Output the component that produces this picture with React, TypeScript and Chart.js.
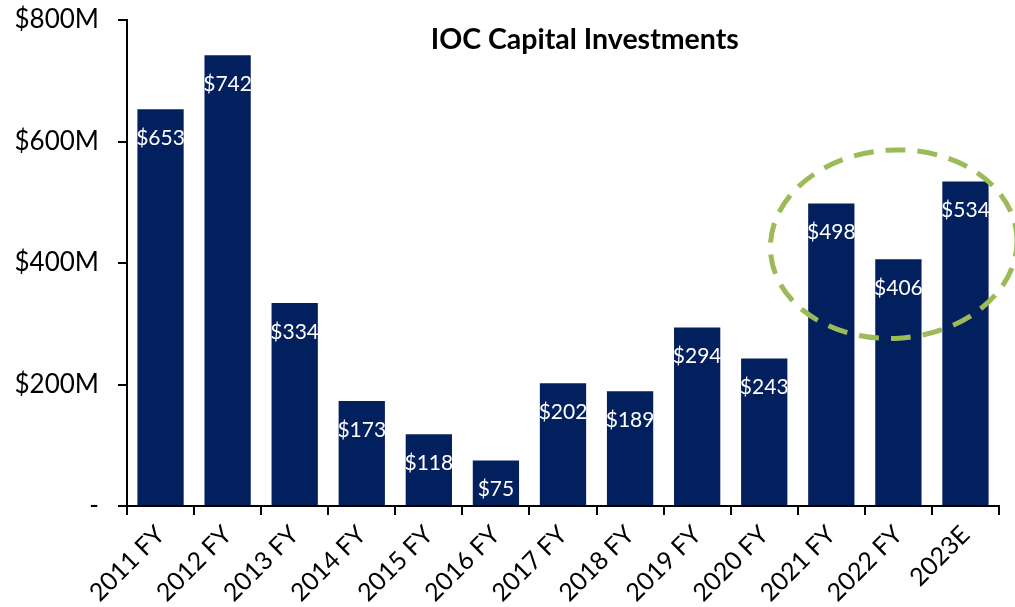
import React, { useEffect, useRef } from "react";
import { Chart, registerables } from "chart.js";

Chart.register(...registerables);

const categories = [
  "2011 FY", "2012 FY", "2013 FY", "2014 FY", "2015 FY", "2016 FY", "2017 FY",
  "2018 FY", "2019 FY", "2020 FY", "2021 FY", "2022 FY", "2023E",
];
const investments = [653, 742, 334, 173, 118, 75, 202, 189, 294, 243, 498, 406, 534];
const yTicks = [0, 200, 400, 600, 800];
const titleText = "IOC Capital Investments";
// highlight ellipse: centre (category index, value), radii (categories, value units)
const highlightCenter = [10.93, 431];
const highlightRadius = [1.84, 155];

const FONT = "Lato, 'Open Sans', sans-serif";

export default function App() {
  const ref = useRef<HTMLCanvasElement | null>(null);

  useEffect(() => {
    if (!ref.current) return;

    const labelPlugin = {
      id: "barLabels",
      afterDatasetsDraw(chart: any) {
        const ctx = chart.ctx;
        const meta = chart.getDatasetMeta(0);
        ctx.save();
        ctx.fillStyle = "#ffffff";
        ctx.font = `21px ${FONT}`;
        ctx.textAlign = "center";
        ctx.textBaseline = "middle";
        meta.data.forEach((el: any, i: number) => {
          ctx.fillText(`$${investments[i]}`, el.x, el.y + 29);
        });
        ctx.restore();
      },
    };

    const ellipsePlugin = {
      id: "highlight",
      afterDatasetsDraw(chart: any) {
        const ctx = chart.ctx;
        const xs = chart.scales.x;
        const ys = chart.scales.y;
        const cx = xs.getPixelForValue(highlightCenter[0]);
        const cy = ys.getPixelForValue(highlightCenter[1]);
        const catW = xs.getPixelForValue(1) - xs.getPixelForValue(0);
        const rx = highlightRadius[0] * catW;
        const ry = Math.abs(ys.getPixelForValue(0) - ys.getPixelForValue(highlightRadius[1]));
        ctx.save();
        ctx.strokeStyle = "#9BBB59";
        ctx.lineWidth = 5;
        ctx.setLineDash([20, 12]);
        ctx.beginPath();
        ctx.ellipse(cx, cy, rx, ry, -0.06, 0, Math.PI * 2);
        ctx.stroke();
        ctx.restore();
      },
    };

    const titlePlugin = {
      id: "customTitle",
      afterDraw(chart: any) {
        const ctx = chart.ctx;
        const a = chart.chartArea;
        ctx.save();
        ctx.fillStyle = "#000000";
        ctx.font = `bold 28.5px ${FONT}`;
        ctx.textAlign = "center";
        ctx.textBaseline = "middle";
        ctx.fillText(titleText, a.left + 0.525 * (a.right - a.left), a.top + 20);
        ctx.restore();
      },
    };

    const chart = new Chart(ref.current, {
      type: "bar",
      data: {
        labels: categories,
        datasets: [
          {
            data: investments,
            backgroundColor: "#03205E",
            barPercentage: 0.69,
            categoryPercentage: 1,
          },
        ],
      },
      options: {
        animation: false,
        responsive: true,
        maintainAspectRatio: false,
        layout: { padding: { top: 20, right: 16, left: 0, bottom: 0 } },
        plugins: {
          legend: { display: false },
          title: { display: false },
          tooltip: { enabled: false },
        },
        scales: {
          x: {
            offset: true,
            border: { color: "#000", width: 2 },
            grid: {
              offset: true,
              drawOnChartArea: false,
              drawTicks: true,
              tickLength: 9,
              color: "#000",
              lineWidth: 2,
            },
            ticks: {
              color: "#000",
              font: { family: FONT, size: 25 },
              minRotation: 45,
              maxRotation: 45,
              padding: 5,
            },
            afterFit(scale: any) {
              scale.height = 101;
              scale.paddingLeft = 0;
              scale.paddingRight = 0;
            },
          },
          y: {
            min: 0,
            max: 800,
            border: { color: "#000", width: 2 },
            grid: {
              drawOnChartArea: false,
              drawTicks: true,
              tickLength: 9,
              color: "#000",
              lineWidth: 2,
            },
            afterBuildTicks(scale: any) {
              scale.ticks = yTicks.map((v) => ({ value: v }));
            },
            ticks: {
              color: "#000",
              font: { family: FONT, size: 26 },
              padding: 19,
              callback: (v: any) => (Number(v) === 0 ? "-" : `$${v}M`),
            },
            afterFit(scale: any) {
              scale.width = 127;
              scale.paddingTop = 0;
              scale.paddingBottom = 0;
            },
          },
        },
      },
      plugins: [labelPlugin, ellipsePlugin, titlePlugin],
    });

    return () => chart.destroy();
  }, []);

  return (
    <div style={{ position: "fixed", left: 0, top: 0, width: 1015, height: 607, background: "#fff" }}>
      <canvas ref={ref} />
    </div>
  );
}
